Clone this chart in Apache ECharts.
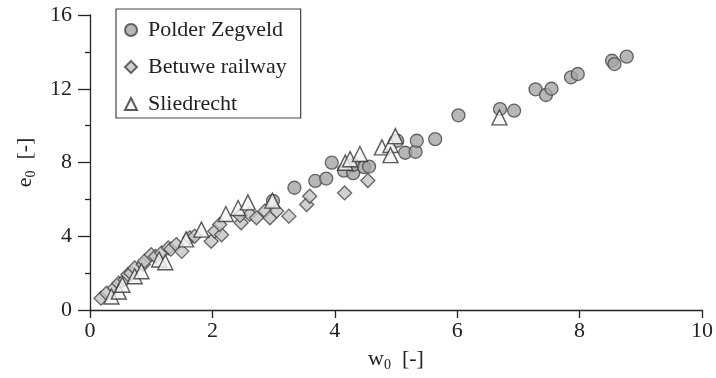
<!DOCTYPE html>
<html><head><meta charset="utf-8">
<script src="https://cdn.jsdelivr.net/npm/echarts@6/dist/echarts.min.js"></script>
<style>html,body{margin:0;padding:0;background:#fff}#c{width:716px;height:378px}</style>
</head><body><div id="c"></div>
<script>
var seriesNames = ['Polder Zegveld', 'Betuwe railway', 'Sliedrecht'];
var xTicks = [0, 2, 4, 6, 8, 10];
var yTicks = [0, 4, 8, 12, 16];
var polderZegveld = [[2.99,5.92],[3.34,6.63],[3.68,7.0],[3.86,7.13],[3.95,7.99],[4.15,7.56],[4.3,7.42],[4.3,7.87],[4.48,7.75],[4.56,7.78],[5.02,9.18],[5.15,8.53],[5.32,8.58],[5.34,9.18],[5.64,9.27],[6.02,10.56],[6.70,10.9],[6.93,10.81],[7.28,11.97],[7.45,11.66],[7.54,12.0],[7.86,12.62],[7.97,12.8],[8.53,13.52],[8.57,13.34],[8.77,13.74]];
var betuweRailway = [[0.18,0.64],[0.27,0.91],[0.4,1.19],[0.47,1.45],[0.57,1.64],[0.62,1.92],[0.67,2.0],[0.73,2.28],[0.87,2.47],[0.89,2.65],[1.0,3.0],[1.07,2.9],[1.17,3.1],[1.28,3.37],[1.32,3.3],[1.41,3.55],[1.5,3.18],[1.63,3.92],[1.71,4.0],[1.98,3.73],[2.04,4.27],[2.15,4.08],[2.12,4.64],[2.47,4.73],[2.45,5.13],[2.61,5.19],[2.72,5.0],[2.86,5.37],[2.94,5.0],[3.05,5.37],[3.25,5.09],[3.54,5.72],[3.59,6.17],[4.16,6.35],[4.54,7.02]];
var sliedrecht = [[0.35,0.73],[0.47,1.0],[0.53,1.37],[0.73,1.83],[0.84,2.1],[1.13,2.74],[1.23,2.59],[1.57,3.83],[1.82,4.36],[2.22,5.21],[2.42,5.53],[2.58,5.84],[2.98,5.93],[4.17,7.99],[4.25,8.18],[4.41,8.46],[4.77,8.82],[4.91,8.95],[4.91,8.40],[4.99,9.43],[6.69,10.45]];

var FONT = 'Liberation Serif';
var chart = echarts.init(document.getElementById('c'));
chart.setOption({
  animation: false,
  backgroundColor: '#fff',
  textStyle: {fontFamily: FONT, color: '#222'},
  grid: {left: 90, right: 14, top: 15, bottom: 68, containLabel: false},
  legend: {
    orient: 'vertical', left: 116, top: 9,
    data: seriesNames,
    borderColor: '#444', borderWidth: 1.2, borderRadius: 0,
    padding: [10, 14, 3, 8], itemGap: 15, itemWidth: 12, itemHeight: 12,
    textStyle: {fontFamily: FONT, fontSize: 22, color: '#222', padding: [0, 0, 0, 6]}
  },
  xAxis: {
    type: 'value', min: 0, max: 10, interval: 2,
    name: 'w{s|0}  [-]', nameLocation: 'middle', nameGap: 36,
    nameTextStyle: {fontFamily: FONT, fontSize: 22, color: '#222', rich: {s: {fontFamily: FONT, fontSize: 14, padding: [12,0,0,0], color:'#222'}}},
    axisLine: {lineStyle: {color: '#222', width: 1.3}},
    axisTick: {show: true, length: 8, lineStyle: {color: '#222', width: 1.3}},
    axisLabel: {fontFamily: FONT, fontSize: 22, color: '#222', margin: 10,
      formatter: function(v){ return xTicks.indexOf(v) >= 0 ? String(v) : ''; }},
    splitLine: {show: false}
  },
  yAxis: {
    type: 'value', min: 0, max: 16, interval: 4,
    name: 'e{s|0}  [-]', nameLocation: 'middle', nameGap: 52, nameRotate: 90,
    nameTextStyle: {fontFamily: FONT, fontSize: 22, color: '#222', rich: {s: {fontFamily: FONT, fontSize: 14, padding: [12,0,0,0], color:'#222'}}},
    axisLine: {lineStyle: {color: '#222', width: 1.3}},
    axisTick: {show: true, length: 12, lineStyle: {color: '#222', width: 1.3}},
    minorTick: {show: true, splitNumber: 2, length: 5, lineStyle: {color: '#222', width: 1.3}},
    axisLabel: {fontFamily: FONT, fontSize: 22, color: '#222', margin: 18,
      formatter: function(v){ return yTicks.indexOf(v) >= 0 ? String(v) : ''; }},
    splitLine: {show: false}
  },
  series: [
    {name: seriesNames[0], type: 'scatter', data: polderZegveld, symbol: 'circle', symbolSize: 13,
     itemStyle: {color: '#a5a5a5', borderColor: '#444', borderWidth: 1.3}, z: 2},
    {name: seriesNames[1], type: 'scatter', data: betuweRailway, symbol: 'diamond', symbolSize: 14,
     itemStyle: {color: '#c4c4c4', borderColor: '#444', borderWidth: 1.3}, z: 3},
    {name: seriesNames[2], type: 'scatter', data: sliedrecht, symbol: 'triangle', symbolSize: 15,
     itemStyle: {color: '#f4f4f4', borderColor: '#333', borderWidth: 1.4}, z: 4}
  ]
});
</script></body></html>
